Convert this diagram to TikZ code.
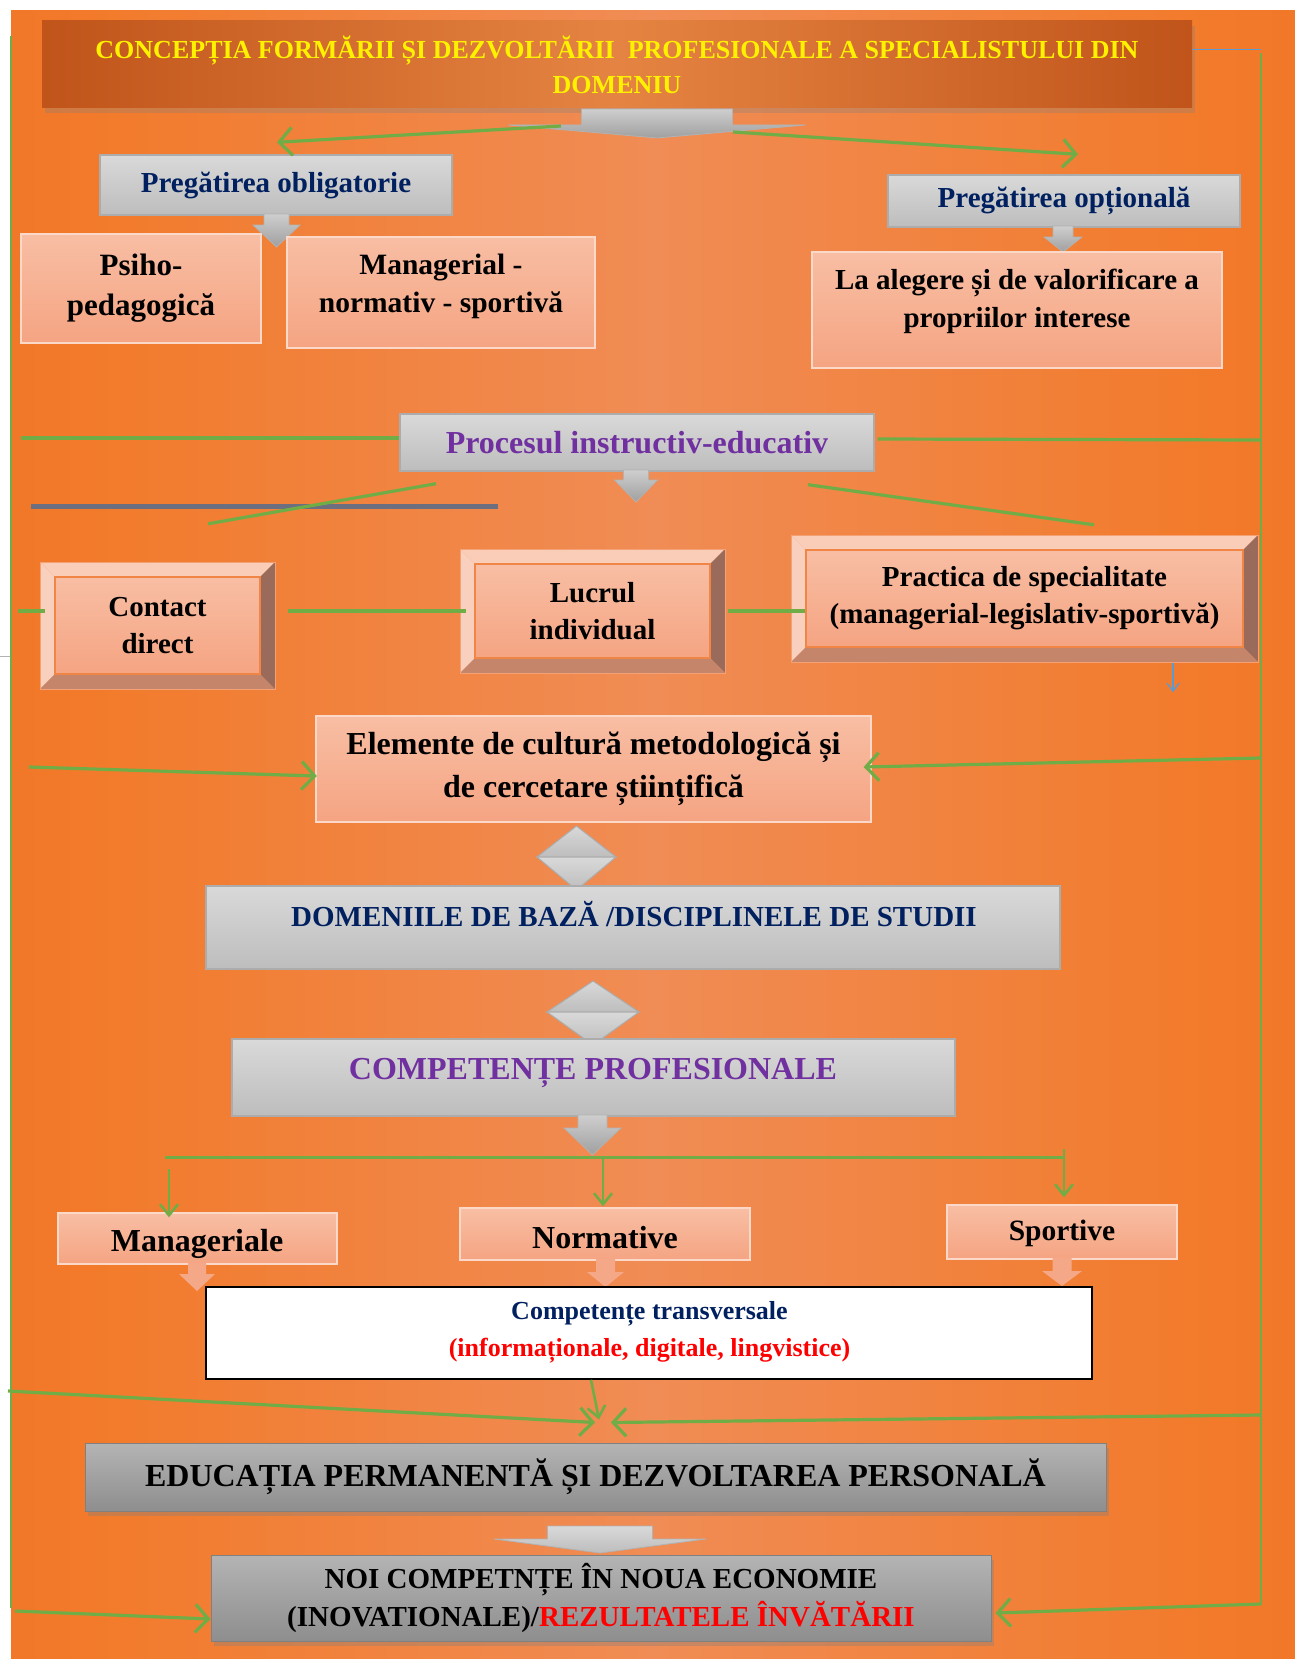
\documentclass[tikz,border=0pt]{standalone}
\usepackage{fontspec}
\setmainfont{Liberation Serif}
\usetikzlibrary{arrows.meta,calc,shadows}
\definecolor{gr}{HTML}{70AD47}
\definecolor{navy}{HTML}{002060}
\definecolor{purp}{HTML}{7030A0}
\definecolor{bgA}{HTML}{E5661B}
\definecolor{bgB}{HTML}{F27A2A}
\definecolor{bgC}{HTML}{F08C55}
\definecolor{salA}{HTML}{F8BEA4}
\definecolor{salB}{HTML}{F5A482}
\definecolor{gyA}{HTML}{D9D9D9}
\definecolor{gyB}{HTML}{BDBDBD}
\definecolor{gyC}{HTML}{B4B4B4}
\definecolor{gyD}{HTML}{8E8E8E}
\definecolor{ttA}{HTML}{C0541A}
\definecolor{ttB}{HTML}{E58442}
\definecolor{bevT}{HTML}{FACDB8}
\definecolor{bevL}{HTML}{F9D0BE}
\definecolor{bevR}{HTML}{9A6B5B}
\definecolor{bevB}{HTML}{C5856A}
\definecolor{bevE}{HTML}{F08545}
\definecolor{blu}{HTML}{5B9BD5}
\definecolor{slate}{HTML}{6C6F80}
\definecolor{redt}{HTML}{FF0000}
\pgfdeclarehorizontalshading{bgshade}{100bp}{color(0bp)=(bgA); color(28bp)=(bgB); color(50bp)=(bgC); color(72bp)=(bgB); color(100bp)=(bgA)}
\newcommand\myfs[2]{\fontsize{#1}{#2}\selectfont\bfseries}
\newcommand\blockarr[7]{\path[#1] ({#2-#4},#3) -- ({#2+#4},#3) -- ({#2+#4},#5) -- ({#2+#6},#5) -- (#2,#7) -- ({#2-#6},#5) -- ({#2-#4},#5) -- cycle;}
\newcommand\dmd[5]{%
 \path[dstyle] ({#1-#5},#3) -- (#1,#2) -- ({#1+#5},#3) -- cycle;
 \path[dstyle] ({#1-#5},#3) -- (#1,#4) -- ({#1+#5},#3) -- cycle;}
\newcommand\bevbox[6]{%
 \fill[bevT] (#2,#3) -- (#4,#3) -- ({#4-15},{#3+15}) -- ({#2+15},{#3+15}) -- cycle;
 \fill[bevL] (#2,#3) -- ({#2+15},{#3+15}) -- ({#2+15},{#5-15}) -- (#2,#5) -- cycle;
 \fill[bevR] (#4,#3) -- (#4,#5) -- ({#4-15},{#5-15}) -- ({#4-15},{#3+15}) -- cycle;
 \fill[bevB] (#2,#5) -- (#4,#5) -- ({#4-15},{#5-15}) -- ({#2+15},{#5-15}) -- cycle;
 \path[top color=salA, bottom color=salB, draw=bevE, line width=1.2pt] ({#2+15},{#3+15}) rectangle ({#4-15},{#5-15});
 \draw[bevE!50!salA, line width=1pt] (#2,#3) rectangle (#4,#5);
 \node[minimum width={#4-#2}, minimum height={#5-#3}, inner sep=0pt, font=\myfs{29}{37}, align=center] (#1) at ({(#2+#4)/2},{(#3+#5)/2}) {#6};}
\begin{document}
\begin{tikzpicture}[x=1pt,y=-1pt,
 gline/.style={draw=gr, line width=3.2pt},
 garr/.style={draw=gr, line width=3.2pt, -{Straight Barb[length=13pt,width=28pt]}},
 tarr/.style={draw=gr, line width=2.6pt, -{Straight Barb[length=11pt,width=18pt]}},
 rail/.style={draw=gr, line width=2.2pt},
 graybox/.style={draw=gray!65, line width=1.4pt, top color=gyA, bottom color=gyB, inner sep=0pt},
 salbox/.style={draw=salA!60!white, line width=1.4pt, top color=salA, bottom color=salB, inner sep=0pt},
 darkbox/.style={draw=gyD!90!black, line width=1pt, top color=gyC, bottom color=gyD, inner sep=0pt, drop shadow={opacity=0.35, shadow xshift=3pt, shadow yshift=-5pt}},
 grarrow/.style={top color=gyA!95!black, bottom color=gray!75, draw=gray!60, line width=0.8pt},
 ltarrow/.style={top color=gyA, bottom color=gyB, draw=gray!60, line width=0.8pt},
 salarrow/.style={fill=salB!85!salA},
 dstyle/.style={top color=gyA, bottom color=gyB, draw=gray!65, line width=1pt},
 tx/.style={align=center, inner sep=0pt}]
\useasboundingbox (0,0) rectangle (1295,1659);
\fill[white] (0,0) rectangle (1295,1659);
\shade[shading=bgshade] (11,11) rectangle (1295,1659);
\draw[gray!60, line width=0.8pt] (0,656) -- (11,656);

% rails
\coordinate (LT) at (11,36);
\coordinate (LB) at (11,1608);
\coordinate (RT) at (1261,50);
\coordinate (RB) at (1261,1605);
\draw[rail] (LT) -- (LB);
\draw[rail] ($(RT)+(0,3)$) -- (RB);

% title
\node[left color=ttA, right color=ttA, middle color=ttB, minimum width=1150, minimum height=87, inner sep=0pt,
  drop shadow={opacity=0.3, shadow xshift=3pt, shadow yshift=-5pt}] (title) at (617,64.5) {};
\node[tx, font=\myfs{26}{35}, text=yellow] (titletxt) at (617,65) {CONCEPȚIA FORMĂRII ȘI DEZVOLTĂRII\ \ PROFESIONALE A SPECIALISTULUI DIN\\DOMENIU};
\draw[blu, line width=1pt] (title.east |- RT) -- (RT);

% arrow under title
\blockarr{grarrow}{657}{109}{75.5}{125}{148.5}{138}
\coordinate (tarrL) at (561,126);
\coordinate (tarrR) at (733,132);

% compulsory / optional
\node[graybox, minimum width=352, minimum height=60, font=\myfs{29}{36}, text=navy] (oblig) at (276,185) {Pregătirea obligatorie};
\node[graybox, minimum width=352, minimum height=52, font=\myfs{29}{36}, text=navy] (optional) at (1064,201) {Pregătirea opțională};
\draw[garr] (tarrL) -- ($(oblig.north)+(1,-12)$);
\draw[garr] (tarrR) -- ($(optional.north)+(14,-20)$);
\blockarr{grarrow}{276.5}{214}{12.5}{225}{23.5}{247}
\blockarr{grarrow}{1063}{226}{10}{237}{19}{252}

\node[salbox, minimum width=240, minimum height=109, font=\myfs{31}{40}, align=center] (psiho) at (141,288.5) {Psiho-\\pedagogică};
\node[salbox, minimum width=308, minimum height=111] (manag) at (441,292.5) {};
\node[tx, font=\myfs{29.5}{38}] (managtxt) at (441,286) {Managerial -\\normativ - sportivă};
\node[salbox, minimum width=410, minimum height=116] (alegere) at (1017,310) {};
\node[tx, font=\myfs{29}{38}] (alegeretxt) at (1017,301) {La alegere și de valorificare a\\propriilor interese};

% process
\node[graybox, minimum width=474, minimum height=57, font=\myfs{32}{38}, text=purp] (procesul) at (637,442.5) {Procesul instructiv-educativ};
\coordinate (Lpr) at (21,438);
\coordinate (Rpr) at (1261,440);
\draw[gline] (Lpr) -- ($(procesul.west)+(0,-4.5)$);
\draw[gline] ($(procesul.east)+(3,-3.5)$) -- (Rpr);
\blockarr{grarrow}{636}{470}{12.5}{480}{21.5}{502}
\draw[slate, line width=5pt] (31,506) -- (498,506);

% bevel boxes
\bevbox{contact}{40}{562}{275}{689}{Contact\\direct}
\bevbox{lucrul}{460}{549}{725}{673}{Lucrul\\individual}
\bevbox{practica}{791}{535}{1258}{662}{Practica de specialitate\\(managerial-legislativ-sportivă)}

\draw[gline] ($(procesul.south)+(-201,12)$) -- ($(contact.north)+(50.5,-38)$);
\draw[gline] ($(procesul.south)+(171,13)$) -- ($(practica.north)+(69.5,-10)$);
\coordinate (Lct) at (18,611);
\draw[gline] (Lct) -- ($(contact.west)+(5,-14.5)$);
\draw[gline] ($(contact.east)+(13,-14.5)$) -- ($(lucrul.west)+(6,0)$);
\draw[gline] ($(lucrul.east)+(3,0)$) -- ($(practica.west)+(14,12.5)$);
\draw[blu, line width=1.3pt, -{Straight Barb[length=8pt,width=12pt]}] ($(practica.south)+(148.5,1)$) -- ++(0,29);

% elemente
\node[salbox, minimum width=555, minimum height=106, font=\myfs{32}{43}, align=center] (elem) at (593.5,769) {Elemente de cultură metodologică și\\de cercetare științifică};
\coordinate (Lel) at (29,767);
\coordinate (Rel) at (1261,758);
\draw[garr] (Lel) -- ($(elem.west)+(1.5,7)$);
\draw[garr] (Rel) -- ($(elem.east)+(-8,-2)$);

\dmd{576.5}{826}{857}{890}{39.5}
\node[graybox, minimum width=854, minimum height=83] (domenii) at (633,927.5) {};
\node[tx, font=\myfs{29}{36}, text=navy] (domeniitxt) at (634,914) {DOMENIILE DE BAZĂ /DISCIPLINELE DE STUDII};
\dmd{593}{981}{1012}{1045}{46}
\node[graybox, minimum width=723, minimum height=77] (compet) at (593.5,1077.5) {};
\node[tx, font=\myfs{32}{38}, text=purp] (compettxt) at (593,1073) {COMPETENȚE PROFESIONALE};
\blockarr{grarrow}{592.5}{1115}{14.5}{1128}{28.5}{1155}

% three competences
\node[salbox, minimum width=279, minimum height=51] (mgr) at (197.5,1238.5) {};
\node[tx, font=\myfs{32}{38}] (mgrtxt) at (197,1244) {Manageriale};
\node[salbox, minimum width=290, minimum height=52] (norm) at (605,1234) {};
\node[tx, font=\myfs{32}{38}] (normtxt) at (605,1238) {Normative};
\node[salbox, minimum width=230, minimum height=54] (sport) at (1062,1232) {};
\node[tx, font=\myfs{29.5}{38}] (sporttxt) at (1062,1233) {Sportive};

\coordinate (barL) at (165,1157);
\coordinate (barR) at (1064,1157);
\coordinate (barM) at (603,1157);
\draw[draw=gr, line width=3pt] (barL) -- (barR);
\draw[tarr] ($(barR)+(0,-8)$) -- ($(sport.north)+(2,-7)$);
\draw[tarr] (barM) -- ($(norm.north)+(-2,-1)$);
\draw[tarr] ($(barL)+(4,12)$) -- ($(mgr.north)+(-28.5,5)$);

\blockarr{salarrow}{197}{1263}{9}{1274}{18}{1291}
\blockarr{salarrow}{605.5}{1259}{9.5}{1272}{18.5}{1287}
\blockarr{salarrow}{1062}{1258}{9.5}{1271}{20}{1286}

\node[draw=black, line width=1.5pt, fill=white, minimum width=886, minimum height=92, inner sep=0pt] (transv) at (649,1333) {};
\node[tx, font=\myfs{26}{37}] (transvtxt) at (649.5,1332.5) {\textcolor{navy}{Competențe transversale}\\\textcolor{redt}{(informaționale, digitale, lingvistice)}};

% education
\node[darkbox, minimum width=1021, minimum height=68, font=\myfs{32}{38}] (educ) at (595.5,1477) {EDUCAȚIA PERMANENTĂ ȘI DEZVOLTAREA PERSONALĂ};
\coordinate (Le) at (8,1391);
\coordinate (Re) at (1261,1415);
\draw[tarr] ($(transv.south)+(-58,0)$) -- ($(educ.north)+(3.5,-23)$);
\draw[garr] (Le) -- ($(educ.north)+(-0.5,-20)$);
\draw[garr] (Re) -- ($(educ.north)+(15.5,-20)$);

\blockarr{ltarrow}{600}{1526}{52.5}{1539}{106}{1553}

\node[darkbox, minimum width=780, minimum height=86, font=\myfs{29}{38}, align=center] (noi) at (601,1598) {NOI COMPETNȚE ÎN NOUA ECONOMIE\\(INOVATIONALE)/\textcolor{redt}{REZULTATELE ÎNVĂTĂRII}};
\coordinate (Lnoi) at (15,1611);
\coordinate (Rnoi) at (1261,1604);
\draw[garr] (Lnoi) -- ($(noi.west)+(0,21)$);
\draw[garr] (Rnoi) -- ($(noi.east)+(4,15)$);
\end{tikzpicture}
\end{document}
